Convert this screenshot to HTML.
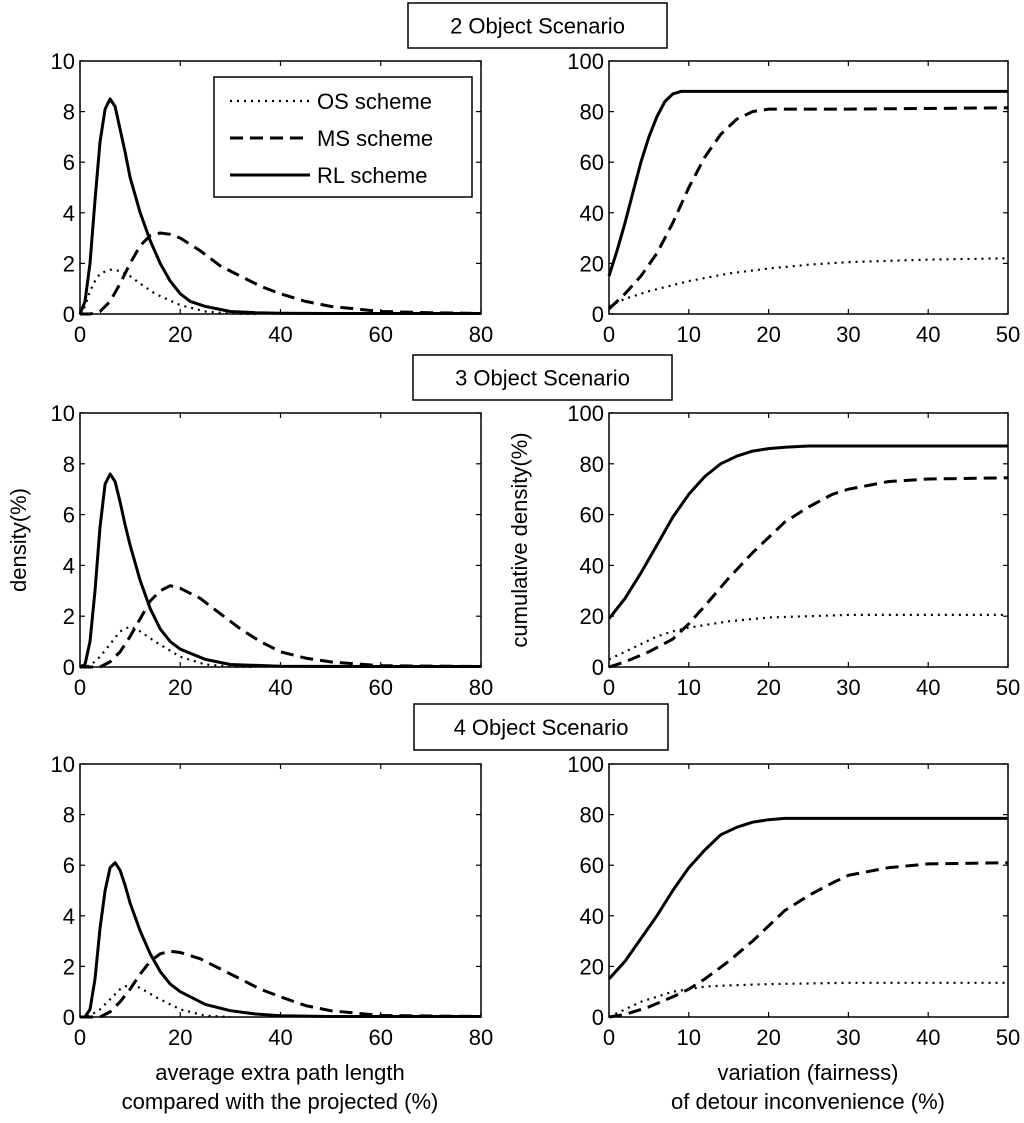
<!DOCTYPE html>
<html><head><meta charset="utf-8">
<style>
html,body{margin:0;padding:0;background:#fff;}
svg{display:block;font-family:"Liberation Sans",sans-serif;}
</style></head>
<body>
<svg id="fig" width="1024" height="1123" viewBox="0 0 1024 1123" xmlns="http://www.w3.org/2000/svg"></svg>
<script>
// ---- data ----
const r1L_rl_x=[0,1,2,3,4,5,6,7,8,9,10,12,14,16,18,20,22,25,30,35,40,50,60,80];
const r1L_rl_y=[0,0.5,2,4.5,6.8,8.1,8.5,8.2,7.3,6.4,5.4,4.0,2.9,2.0,1.3,0.8,0.5,0.3,0.1,0.05,0.03,0.02,0.02,0.02];
const r1L_ms_x=[0,2,4,6,8,10,12,14,16,18,20,24,28,32,36,40,45,50,55,60,70,80];
const r1L_ms_y=[0,0,0.1,0.5,1.2,2.0,2.7,3.1,3.2,3.15,3.0,2.5,1.9,1.5,1.1,0.8,0.5,0.3,0.2,0.1,0.05,0.02];
const r1L_os_x=[0,1,2,3,4,6,8,10,12,15,20,25,30,35];
const r1L_os_y=[0,0.3,0.9,1.3,1.6,1.75,1.7,1.5,1.2,0.8,0.35,0.1,0.02,0];
const r1R_rl_x=[0,1,2,3,4,5,6,7,8,9,10,50];
const r1R_rl_y=[15,25,36,48,60,70,78,84,87,88,88,88];
const r1R_ms_x=[0,2,4,6,8,10,12,14,16,18,20,25,30,50];
const r1R_ms_y=[2,8,15,24,36,50,62,71,77,80,81,81,81,81.5];
const r1R_os_x=[0,2,5,10,15,20,25,30,40,50];
const r1R_os_y=[3,6,9,13,16,18,19.5,20.5,21.5,22];
const r2L_rl_x=[0,1,2,3,4,5,6,7,8,9,10,12,14,16,18,20,25,30,40,60,80];
const r2L_rl_y=[0,0.1,1,3,5.5,7.2,7.6,7.3,6.5,5.6,4.8,3.4,2.3,1.5,1.0,0.7,0.3,0.1,0.03,0.02,0.02];
const r2L_ms_x=[0,4,6,8,10,12,14,16,18,20,24,28,32,36,40,45,50,60,80];
const r2L_ms_y=[0,0,0.2,0.6,1.2,1.9,2.6,3.0,3.2,3.1,2.7,2.1,1.5,1.0,0.6,0.35,0.2,0.05,0.02];
const r2L_os_x=[0,2,4,6,8,10,12,15,20,25,30,35];
const r2L_os_y=[0,0.05,0.4,0.9,1.4,1.6,1.4,1.0,0.4,0.1,0.02,0];
const r2R_rl_x=[0,2,4,6,8,10,12,14,16,18,20,22,25,50];
const r2R_rl_y=[19,27,37,48,59,68,75,80,83,85,86,86.5,87,87];
const r2R_ms_x=[0,2,5,8,10,12,15,18,20,22,25,28,30,35,40,50];
const r2R_ms_y=[0,2,6,11,17,24,35,45,51,57,63,68,70,73,74,74.5];
const r2R_os_x=[0,2,4,6,8,10,15,20,30,50];
const r2R_os_y=[3,6,9,12,14,15.5,18,19.5,20.5,20.5];
const r3L_rl_x=[0,1,2,3,4,5,6,7,8,9,10,12,14,16,18,20,25,30,35,40,50,60,80];
const r3L_rl_y=[0,0,0.3,1.5,3.5,5,5.9,6.1,5.8,5.2,4.5,3.4,2.5,1.8,1.3,1.0,0.5,0.25,0.12,0.05,0.02,0.02,0.02];
const r3L_ms_x=[0,4,6,8,10,12,14,16,18,20,24,28,32,36,40,45,50,60,80];
const r3L_ms_y=[0,0,0.2,0.6,1.1,1.7,2.2,2.5,2.6,2.55,2.3,1.9,1.5,1.1,0.8,0.45,0.25,0.06,0.02];
const r3L_os_x=[0,2,4,6,8,10,12,15,20,25,30];
const r3L_os_y=[0,0.05,0.3,0.7,1.1,1.3,1.15,0.8,0.3,0.05,0];
const r3R_rl_x=[0,2,4,6,8,10,12,14,16,18,20,22,25,50];
const r3R_rl_y=[15,22,31,40,50,59,66,72,75,77,78,78.5,78.5,78.5];
const r3R_ms_x=[0,2,5,8,10,12,15,18,20,22,25,28,30,35,40,50];
const r3R_ms_y=[0,1,4,8,11,15,22,30,36,42,48,53,56,59,60.5,61];
const r3R_os_x=[0,2,4,6,8,10,12,15,20,30,50];
const r3R_os_y=[0,3,6,8,10,11,12,12.5,13,13.5,13.5];
const leftXTicks=[0,20,40,60,80];
const leftYTicks=[0,2,4,6,8,10];
const rightXTicks=[0,10,20,30,40,50];
const rightYTicks=[0,20,40,60,80,100];
const scenarioTitles=["2 Object Scenario","3 Object Scenario","4 Object Scenario"];

const NS="http://www.w3.org/2000/svg";
const svg=document.getElementById('fig');
function mk(tag,attrs,parent){const e=document.createElementNS(NS,tag);for(const k in attrs)e.setAttribute(k,attrs[k]);(parent||svg).appendChild(e);return e;}

const rows=[{top:61,bot:314,tb:[408,3,259,45]},{top:413,bot:667,tb:[413,355,259,45]},{top:764,bot:1017,tb:[414,704,254,46]}];
const styles={rl:{w:3,d:""},ms:{w:3,d:"13 7"},os:{w:2.2,d:"2 5"}};

function panel(row,side,series,xmax,ymax,xt,yt,name){
  const x0=side==='L'?80:609, x1=side==='L'?481:1008;
  const g=mk('g',{});
  
  
  const sx=v=>x0+(x1-x0)*v/xmax, sy=v=>row.bot-(row.bot-row.top)*v/ymax;
  const box=mk('rect',{x:x0,y:row.top,width:x1-x0,height:row.bot-row.top,fill:'none',stroke:'#000','stroke-width':1.5},g);
  
  
  xt.forEach(t=>{const X=sx(t);
    mk('line',{x1:X,y1:row.bot,x2:X,y2:row.bot-5,stroke:'#000','stroke-width':1.2},g);
    mk('line',{x1:X,y1:row.top,x2:X,y2:row.top+5,stroke:'#000','stroke-width':1.2},g);
    const tx=mk('text',{x:X,y:row.bot+28,'font-size':22,'text-anchor':'middle'},g);tx.textContent=t;
    
    });
  yt.forEach(t=>{const Y=sy(t);
    mk('line',{x1:x0,y1:Y,x2:x0+5,y2:Y,stroke:'#000','stroke-width':1.2},g);
    mk('line',{x1:x1,y1:Y,x2:x1-5,y2:Y,stroke:'#000','stroke-width':1.2},g);
    const tx=mk('text',{x:x0-5,y:Y+8,'font-size':22,'text-anchor':'end'},g);tx.textContent=t;
    
    });
  ['os','ms','rl'].forEach(k=>{const [xs,ys]=series[k];
    const d=xs.map((v,i)=>(i?'L':'M')+sx(v).toFixed(1)+' '+sy(ys[i]).toFixed(1)).join(' ');
    const p=mk('path',{d:d,fill:'none',stroke:'#000','stroke-width':styles[k].w,'stroke-dasharray':styles[k].d,'stroke-linejoin':'round'},g);
    
    });
}
const all=[
 [{rl:[r1L_rl_x,r1L_rl_y],ms:[r1L_ms_x,r1L_ms_y],os:[r1L_os_x,r1L_os_y]},{rl:[r1R_rl_x,r1R_rl_y],ms:[r1R_ms_x,r1R_ms_y],os:[r1R_os_x,r1R_os_y]}],
 [{rl:[r2L_rl_x,r2L_rl_y],ms:[r2L_ms_x,r2L_ms_y],os:[r2L_os_x,r2L_os_y]},{rl:[r2R_rl_x,r2R_rl_y],ms:[r2R_ms_x,r2R_ms_y],os:[r2R_os_x,r2R_os_y]}],
 [{rl:[r3L_rl_x,r3L_rl_y],ms:[r3L_ms_x,r3L_ms_y],os:[r3L_os_x,r3L_os_y]},{rl:[r3R_rl_x,r3R_rl_y],ms:[r3R_ms_x,r3R_ms_y],os:[r3R_os_x,r3R_os_y]}]];
rows.forEach((row,i)=>{
  panel(row,'L',all[i][0],80,10,leftXTicks,leftYTicks,'density-panel-'+(i+2));
  panel(row,'R',all[i][1],50,100,rightXTicks,rightYTicks,'cumulative-panel-'+(i+2));
  const [bx,by,bw,bh]=row.tb;
  const r=mk('rect',{x:bx,y:by,width:bw,height:bh,fill:'#fff',stroke:'#000','stroke-width':1.5});
  
  
  const t=mk('text',{x:bx+bw/2,y:by+bh/2+8,'font-size':22,'text-anchor':'middle'});t.textContent=scenarioTitles[i];
  
  
});
// legend
const lg=mk('g',{});


mk('rect',{x:214,y:77,width:258,height:120,fill:'#fff',stroke:'#000','stroke-width':1.5},lg);
[['os','OS scheme',101],['ms','MS scheme',138],['rl','RL scheme',175]].forEach(([k,l,y])=>{
  const e=mk('g',{},lg);
  
  
  mk('line',{x1:230,y1:y,x2:310,y2:y,stroke:'#000','stroke-width':styles[k].w,'stroke-dasharray':styles[k].d},e);
  const t=mk('text',{x:317,y:y+8,'font-size':22},e);t.textContent=l;
});
function label(txt,x,y,rot,name){const t=mk('text',{x:x,y:y,'font-size':22,'text-anchor':'middle',transform:rot?`rotate(-90 ${x} ${y})`:''});t.textContent=txt;
  
  }
label('density(%)',26,540,true,'y-axis-title-density');
label('cumulative density(%)',527,540,true,'y-axis-title-cumulative');
label('average extra path length',280,1080,false,'x-axis-title-left-line1');
label('compared with the projected (%)',280,1109,false,'x-axis-title-left-line2');
label('variation (fairness)',808,1080,false,'x-axis-title-right-line1');
label('of detour inconvenience (%)',808,1109,false,'x-axis-title-right-line2');
</script>
</body></html>
